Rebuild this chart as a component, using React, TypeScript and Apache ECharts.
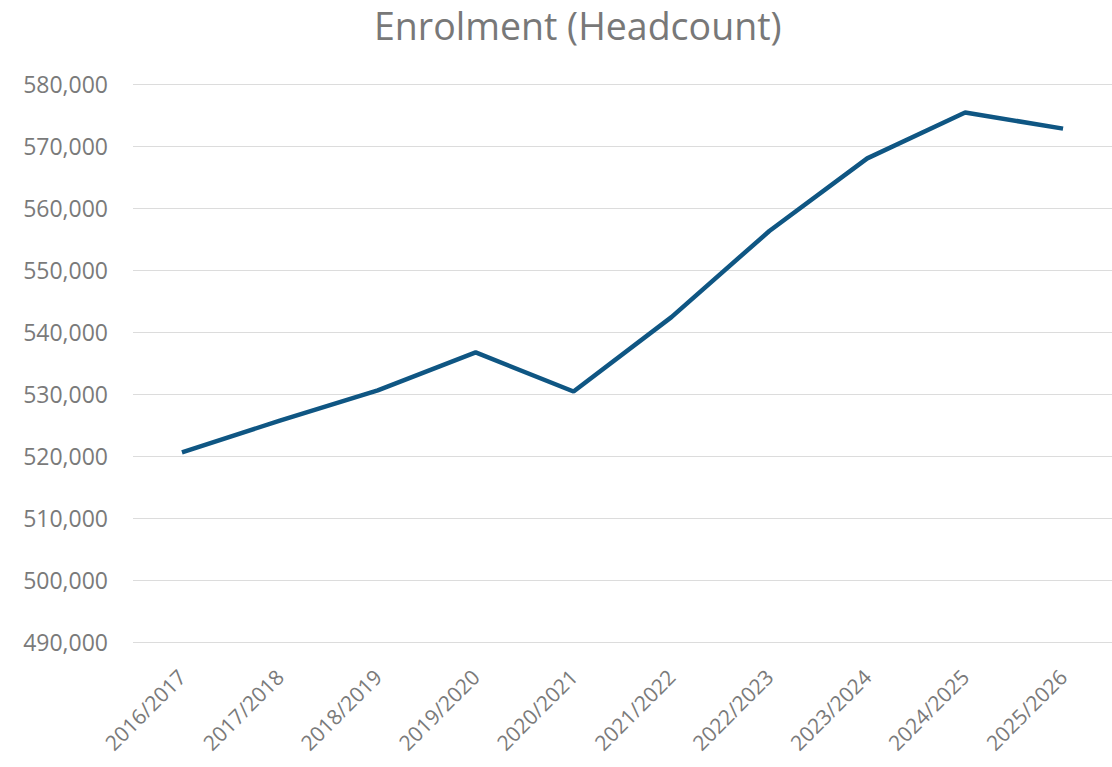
import React, { useEffect, useRef } from "react";
import * as echarts from "echarts";

const title = "Enrolment (Headcount)";
const categories = [
  "2016/2017", "2017/2018", "2018/2019", "2019/2020", "2020/2021",
  "2021/2022", "2022/2023", "2023/2024", "2024/2025", "2025/2026",
];
const enrolment = [520600, 525700, 530600, 536700, 530400, 542400, 556300, 568000, 575400, 572800];
const yMin = 490000;
const yMax = 580000;
const yStep = 10000;

export default function App() {
  const ref = useRef<HTMLDivElement>(null);
  useEffect(() => {
    if (!ref.current) return;
    const chart = echarts.init(ref.current, null, { renderer: "svg" });
    chart.setOption({
      animation: false,
      title: {
        text: title,
        left: 369,
        top: 1,
        textStyle: {
          fontFamily: "Open Sans",
          fontSize: 37.5,
          fontWeight: "normal",
          color: "#787878",
        },
      },
      grid: { left: 133, right: 0, top: 84, bottom: 125 },
      xAxis: {
        type: "category",
        data: categories,
        boundaryGap: true,
        axisLine: { show: false },
        axisTick: { show: false },
        axisLabel: {
          rotate: 45,
          margin: 31,
          fontFamily: "Open Sans",
          fontSize: 21,
          color: "#7a7a7a",
          interval: 0,
        },
      },
      yAxis: {
        type: "value",
        min: yMin,
        max: yMax,
        interval: yStep,
        axisLine: { show: false },
        axisTick: { show: false },
        splitLine: { lineStyle: { color: "#dcdcdc", width: 1 } },
        axisLabel: {
          margin: 25,
          fontFamily: "Open Sans",
          fontSize: 23,
          color: "#7a7a7a",
          formatter: (v: number) => v.toLocaleString("en-US"),
        },
      },
      series: [
        {
          type: "line",
          data: enrolment,
          symbol: "none",
          lineStyle: { color: "#0f5683", width: 4.5 },
        },
      ],
    });
    return () => chart.dispose();
  }, []);
  return (
    <div
      ref={ref}
      style={{ position: "absolute", left: 0, top: 0, width: 1112, height: 767, background: "#fff" }}
    />
  );
}
